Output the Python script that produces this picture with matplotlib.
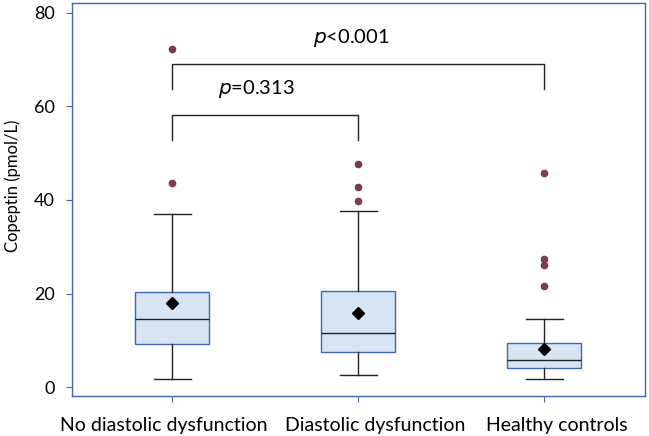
import matplotlib
matplotlib.use("Agg")
import matplotlib.pyplot as plt

plt.rcParams['font.family'] = ['Lato', 'DejaVu Sans']

# data
groups = ['No diastolic dysfunction', 'Diastolic dysfunction', 'Healthy controls']
whislo = [1.7, 2.65, 1.7]
q1 = [9.3, 7.6, 4.1]
median = [14.6, 11.6, 5.9]
q3 = [20.3, 20.5, 9.4]
whishi = [36.9, 37.7, 14.6]
means = [18.0, 15.8, 8.1]
fliers = [[43.6, 72.2], [39.7, 42.8, 47.6], [21.6, 26.0, 27.4, 45.8]]
# the category labels are not quite centred under their ticks in the original
label_x = [0.954, 2.09, 3.07]

# significance brackets: (from, to, top, leg bottom, label, label x, label y)
brackets = [(1, 3, 69.0, 63.6, '$p$<0.001', 1.96, 74.5),
            (1, 2, 58.1, 52.8, '$p$=0.313', 1.45, 63.8)]

edge = '#4169B3'
stats = []
for i in range(3):
    stats.append(dict(label='', whislo=whislo[i], q1=q1[i], med=median[i],
                      q3=q3[i], whishi=whishi[i], mean=means[i], fliers=fliers[i]))

fig = plt.figure(figsize=(6.49, 4.36), dpi=100)
ax = fig.add_axes([0.1105, 0.0906, 0.883, 0.9018])

ax.bxp(stats, positions=[1, 2, 3], widths=0.40, showmeans=True, patch_artist=True,
       capwidths=0.2,
       boxprops=dict(facecolor='#D6E4F3', edgecolor=edge, linewidth=1.0),
       medianprops=dict(color='#222222', linewidth=1.0),
       whiskerprops=dict(color='#222222', linewidth=1.0),
       capprops=dict(color='#222222', linewidth=1.0),
       meanprops=dict(marker='D', markerfacecolor='black', markeredgecolor='black', markersize=6),
       flierprops=dict(marker='o', markerfacecolor='#7A3B55', markeredgecolor='#7A3B55', markersize=4.5))

for x0, x1, top, bot, label, tx, ty in brackets:
    ax.plot([x0, x0, x1, x1], [bot, top, top, bot], color='#222222', linewidth=1.0)
    ax.text(tx, ty, label, ha='center', va='center', fontsize=14.5)

ax.set_xlim(0.459, 3.541)
ax.set_ylim(-2, 82)
ax.set_yticks([0, 20, 40, 60, 80])
ax.set_xticks([1, 2, 3])
ax.set_xticklabels(['', '', ''])
for name, lx in zip(groups, label_x):
    ax.text(lx, -0.052, name, transform=ax.get_xaxis_transform(),
            ha='center', va='top', fontsize=14)

ax.set_ylabel('Copeptin (pmol/L)', fontsize=12)
ax.yaxis.set_label_coords(-0.088, 0.537)
ax.tick_params(axis='both', colors=edge, labelcolor='black', length=4, direction='out')
ax.tick_params(axis='y', labelsize=13, pad=8)
for s in ax.spines.values():
    s.set_color(edge)
    s.set_linewidth(1.0)

fig.savefig('out.png', dpi=100)
